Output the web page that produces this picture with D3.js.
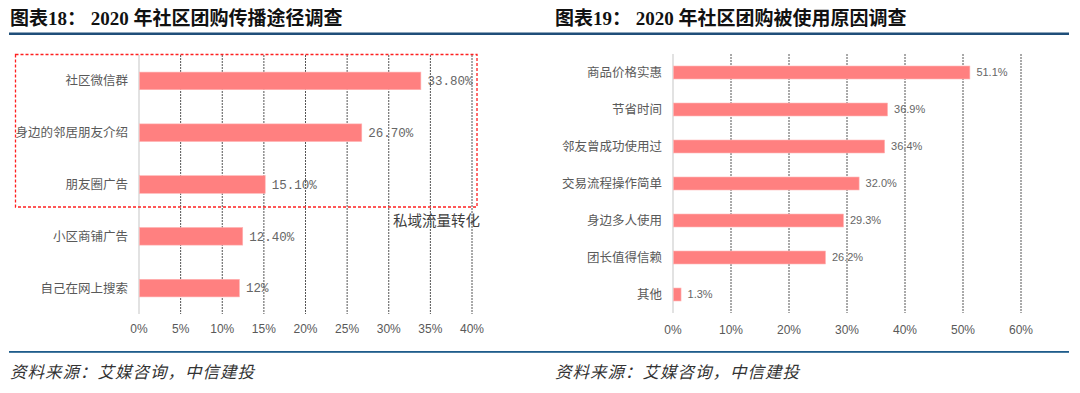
<!DOCTYPE html>
<html>
<head>
<meta charset="utf-8">
<script src="https://cdn.jsdelivr.net/npm/d3@7"></script>
<style>
  html, body { margin: 0; padding: 0; background: #fff; }
  svg { display: block; }
  .title { font-family: "Liberation Serif", "Noto Sans CJK SC", serif; font-weight: bold; font-size: 19px; fill: #111; }
  .source { font-family: "Noto Sans CJK SC", sans-serif; font-style: italic; font-size: 16.5px; fill: #333; letter-spacing: 1px; }
  .cat { font-family: "Noto Sans CJK SC", sans-serif; font-size: 12.5px; fill: #595959; }
  .tick-label { font-family: "Liberation Sans", Arial, sans-serif; font-size: 12px; fill: #595959; }
</style>
</head>
<body>
<svg id="chart" width="1080" height="393"></svg>
<script>
// chart 18 - spread channels
const channelCats = ['社区微信群', '身边的邻居朋友介绍', '朋友圈广告', '小区商铺广告', '自己在网上搜索'];
const channelVals = [33.8, 26.7, 15.1, 12.4, 12];
const channelLabels = ['33.80%', '26.70%', '15.10%', '12.40%', '12%'];
const channelTicks = [0, 5, 10, 15, 20, 25, 30, 35, 40];

// chart 19 - reasons for use
const reasonCats = ['商品价格实惠', '节省时间', '邻友曾成功使用过', '交易流程操作简单', '身边多人使用', '团长值得信赖', '其他'];
const reasonVals = [51.1, 36.9, 36.4, 32.0, 29.3, 26.2, 1.3];
const reasonTicks = [0, 10, 20, 30, 40, 50, 60];

const svg = d3.select('#chart');
const barColor = '#FF8080';

// header / footer rules
svg.append('rect').attr('x', 9).attr('y', 32.5).attr('width', 1060).attr('height', 2.5).attr('fill', '#1F4E79');
svg.append('rect').attr('x', 9).attr('y', 351).attr('width', 1060).attr('height', 1.8).attr('fill', '#1F5C8B');

svg.append('text').attr('class', 'title').attr('x', 10).attr('y', 25).text('图表18： 2020 年社区团购传播途径调查');
svg.append('text').attr('class', 'title').attr('x', 555).attr('y', 25).text('图表19： 2020 年社区团购被使用原因调查');
svg.append('text').attr('class', 'source').attr('x', 10).attr('y', 378).text('资料来源：艾媒咨询，中信建投');
svg.append('text').attr('class', 'source').attr('x', 555).attr('y', 378).text('资料来源：艾媒咨询，中信建投');

function drawBars(opts) {
    const g = svg.append('g');
    const x = d3.scaleLinear().domain(opts.domain).range(opts.xRange);
    const y = d3.scaleBand().domain(opts.cats).range(opts.yRange)
        .paddingInner(opts.pad).paddingOuter(opts.pad / 2);

    // dashed gridlines
    g.selectAll('line.grid')
        .data(opts.ticks.filter(t => t > 0))
        .enter().append('line')
        .attr('x1', d => x(d)).attr('x2', d => x(d))
        .attr('y1', opts.yRange[0]).attr('y2', opts.yRange[1])
        .attr('stroke', '#555').attr('stroke-width', 1)
        .attr('stroke-dasharray', '2,1');

    // zero axis
    g.append('line')
        .attr('x1', x(0)).attr('x2', x(0))
        .attr('y1', opts.yRange[0]).attr('y2', opts.yRange[1])
        .attr('stroke', '#D9D9D9').attr('stroke-width', 1.5);

    g.selectAll('text.tick')
        .data(opts.ticks)
        .enter().append('text')
        .attr('class', 'tick-label')
        .attr('x', d => x(d))
        .attr('y', opts.tickY)
        .attr('text-anchor', 'middle')
        .text(d => d + '%');

    g.selectAll('rect.bar')
        .data(opts.vals)
        .enter().append('rect')
        .attr('x', x(0) + 0.5)
        .attr('y', (d, i) => y(opts.cats[i]))
        .attr('width', d => x(d) - x(0))
        .attr('height', y.bandwidth())
        .attr('fill', barColor)
        .attr('stroke', '#FFB3B3').attr('stroke-width', 0.6);

    g.selectAll('text.cat')
        .data(opts.cats)
        .enter().append('text')
        .attr('class', 'cat')
        .attr('x', x(0) - 11)
        .attr('y', d => y(d) + y.bandwidth() / 2)
        .attr('dy', '0.36em')
        .attr('text-anchor', 'end')
        .text(d => d);

    g.selectAll('text.val')
        .data(opts.vals)
        .enter().append('text')
        .attr('x', d => x(d) + 7)
        .attr('y', (d, i) => y(opts.cats[i]) + y.bandwidth() / 2)
        .attr('dy', '0.35em')
        .attr('font-family', opts.valFont)
        .attr('font-size', opts.valSize)
        .attr('fill', '#666')
        .text((d, i) => opts.labels[i]);

    return { x, y };
}

drawBars({
    cats: channelCats, vals: channelVals, labels: channelLabels, ticks: channelTicks,
    domain: [0, 40], xRange: [139, 472], yRange: [55, 314], pad: 0.66, tickY: 333,
    valFont: '"Liberation Mono", monospace', valSize: '12.5px'
});

drawBars({
    cats: reasonCats, vals: reasonVals, labels: reasonVals.map(v => v.toFixed(1) + '%'), ticks: reasonTicks,
    domain: [0, 60], xRange: [673, 1021], yRange: [54, 313], pad: 0.65, tickY: 334,
    valFont: '"Liberation Sans", Arial, sans-serif', valSize: '11px'
});

// private traffic box on chart 18
svg.append('rect')
    .attr('x', 15.5).attr('y', 54.5).attr('width', 461.5).attr('height', 152.5)
    .attr('fill', 'none').attr('stroke', '#FF2020').attr('stroke-width', 1.3)
    .attr('stroke-dasharray', '3,2');
svg.append('text')
    .attr('x', 393).attr('y', 226)
    .attr('font-family', '"Noto Sans CJK SC", sans-serif').attr('font-size', '14.5px')
    .attr('fill', '#404040')
    .text('私域流量转化');
</script>
</body>
</html>
